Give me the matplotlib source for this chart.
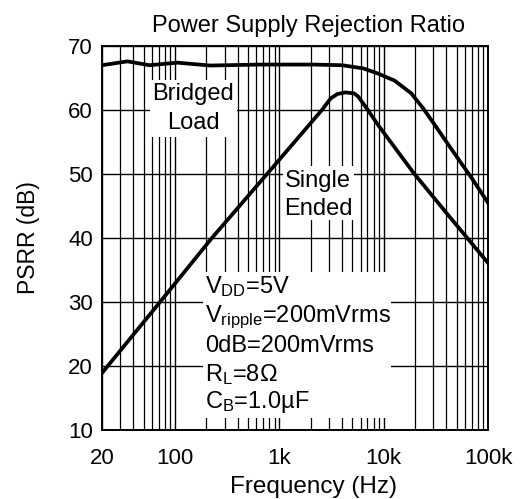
import matplotlib
matplotlib.use('Agg')
import matplotlib.pyplot as plt
import matplotlib.patches as patches
import numpy as np

plt.rcParams['font.family'] = ['Liberation Sans', 'DejaVu Sans']
plt.rcParams['mathtext.fontset'] = 'custom'
plt.rcParams['mathtext.rm'] = 'Liberation Sans'
plt.rcParams['mathtext.it'] = 'Liberation Sans'

# Bridged load PSRR (dB)
bridged_freq = [20, 35, 57, 105, 217, 657, 2100, 4000, 6370, 8800, 12700, 18400,
                23800, 30800, 41200, 55300, 68900, 100000]
bridged_psrr = [67.0, 67.6, 67.0, 67.4, 66.95, 67.1, 67.1, 67.0, 66.5, 65.7, 64.6, 62.6,
                60.3, 57.7, 54.7, 51.7, 49.5, 45.5]

# Single ended PSRR (dB)
single_freq = [20, 72, 226, 763, 2560, 3100, 3600, 4300, 5200, 5700, 7060, 8800,
               19500, 42900, 100000]
single_psrr = [18.9, 30.0, 40.0, 50.0, 60.0, 61.8, 62.5, 62.75, 62.6, 62.1, 60.0, 57.7,
               50.1, 43.3, 36.1]

xticks = [20, 100, 1000, 10000, 100000]
xtick_labels = ['20', '100', '1k', '10k', '100k']
yticks = [10, 20, 30, 40, 50, 60, 70]

conditions = ['V$_{\\mathrm{DD}}$=5V',
              'V$_{\\mathrm{ripple}}$=200mVrms',
              '0dB=200mVrms',
              'R$_{\\mathrm{L}}$=8\u03a9',
              'C$_{\\mathrm{B}}$=1.0\u00b5F']

fig = plt.figure(figsize=(5.22, 4.99), dpi=100)
ax = fig.add_axes([0.1954, 0.1383, 0.7395, 0.7695])

ax.plot(bridged_freq, bridged_psrr, color='black', linewidth=2.7, zorder=3)
ax.plot(single_freq, single_psrr, color='black', linewidth=2.7, zorder=3)

ax.set_xscale('log')
ax.set_xlim(20, 100000)
ax.set_ylim(10, 70)
ax.set_xticks(xticks)
ax.set_xticklabels(xtick_labels)
ax.set_yticks(yticks)
ax.xaxis.set_minor_locator(matplotlib.ticker.LogLocator(base=10, subs=np.arange(2, 10)))
ax.xaxis.set_minor_formatter(matplotlib.ticker.NullFormatter())
ax.tick_params(which='both', length=0, labelsize=16)
ax.tick_params(axis='x', pad=13)
ax.tick_params(axis='y', pad=6.5)
ax.grid(True, which='major', color='black', linewidth=1.0)
ax.xaxis.grid(True, which='minor', color='black', linewidth=0.9)
for s in ax.spines.values():
    s.set_linewidth(1.4)
    s.set_zorder(5)

ax.set_title('Power Supply Rejection Ratio', fontsize=17, pad=10, x=0.536)
ax.set_xlabel('Frequency (Hz)', fontsize=17.5, labelpad=5, x=0.549)
ax.set_ylabel('PSRR (dB)', fontsize=16.5, labelpad=20)

# white label boxes over the grid
for (bx, by, bw, bh) in [(0.124, 0.763, 0.225, 0.148),
                         (0.469, 0.547, 0.184, 0.141),
                         (0.262, 0.031, 0.487, 0.380)]:
    ax.add_patch(patches.Rectangle((bx, by), bw, bh, transform=ax.transAxes,
                                   facecolor='white', edgecolor='none', zorder=2))

ax.text(0.237, 0.859, 'Bridged', transform=ax.transAxes, fontsize=17, ha='center', va='baseline', zorder=4)
ax.text(0.237, 0.784, 'Load', transform=ax.transAxes, fontsize=17, ha='center', va='baseline', zorder=4)
ax.text(0.5596, 0.634, 'Single', transform=ax.transAxes, fontsize=17, ha='center', va='baseline', zorder=4)
ax.text(0.5596, 0.560, 'Ended', transform=ax.transAxes, fontsize=17, ha='center', va='baseline', zorder=4)

for line, yb in zip(conditions, [0.357, 0.281, 0.203, 0.128, 0.057]):
    ax.text(0.268, yb, line, transform=ax.transAxes, fontsize=17, ha='left', va='baseline', zorder=4)

fig.savefig('out.png', dpi=100)
